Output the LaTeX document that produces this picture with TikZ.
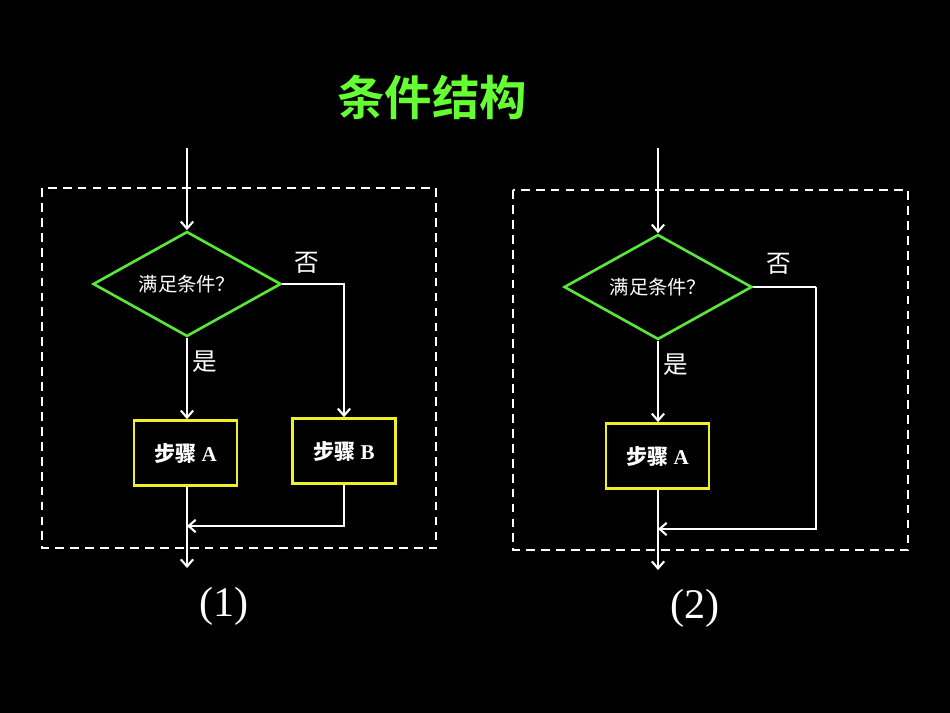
\documentclass[tikz,border=0pt]{standalone}
\usepackage{fontspec}
\setmainfont{Liberation Serif}
\newfontfamily\cjk{Noto Sans CJK SC}
\newfontfamily\cjkb{Noto Sans CJK SC Bold}
\usetikzlibrary{arrows.meta,shapes.geometric}
\definecolor{tgreen}{RGB}{102,255,51}
\definecolor{dgreen}{RGB}{90,230,60}
\definecolor{byellow}{RGB}{240,240,40}
\begin{document}
\begin{tikzpicture}[x=0.02cm,y=-0.02cm,
  ln/.style={white,line width=1.2pt},
  arr/.style={ln,-{Straight Barb[length=4pt,width=7pt]}},
  frame/.style={white,line width=1.3pt,dash pattern=on 5pt off 3.5pt},
  cond/.style={diamond,draw=dgreen,line width=1.5pt,fill=black,aspect=1.8,inner sep=0pt,minimum width=3.76cm,minimum height=2.1cm,text=white,font=\cjk\fontsize{11}{13}\selectfont},
  stepbox/.style={draw=byellow,line width=1.5pt,fill=black,minimum width=2.06cm,minimum height=1.3cm,text=white,font=\fontsize{12}{14}\selectfont\bfseries},
  lab/.style={text=white,font=\cjk\fontsize{14}{16}\selectfont},
  num/.style={text=white,font=\fontsize{24}{28}\selectfont}]
\fill[black] (0,0) rectangle (950,713);
\node[text=tgreen,font=\cjkb\fontsize{27}{30}\selectfont] (title) at (432,97) {条件结构};
% left
\draw[frame] (42,188) rectangle (436,548);
\coordinate (i1) at (187,148);
\node[cond] (d1) at (187,284) {满足条件？};
\node[stepbox] (a1) at (185.5,453) {{\cjk 步骤} A};
\node[stepbox] (b1) at (344,451) {{\cjk 步骤} B};
\coordinate (o1) at (187,568);
\coordinate (m1) at (187,526);
\draw[arr] (i1) -- (d1.north);
\draw[arr] (d1.south) -- (a1.north -| d1.south);
\draw[arr] (d1.east) -| (b1.north);
\draw[arr] (b1.south) |- (m1);
\draw[arr] (a1.south -| d1.south) -- (o1);
\node[lab] (y1) at (205,362) {是};
\node[lab] (n1) at (307,263) {否};
\node[num] (c1) at (224,606) {(1)};
% right
\draw[frame] (513,190) rectangle (908,550);
\coordinate (i2) at (658,148);
\node[cond] (d2) at (658,287) {满足条件？};
\node[stepbox] (a2) at (657.5,456) {{\cjk 步骤} A};
\coordinate (r2) at (816,287);
\coordinate (m2) at (658,529);
\coordinate (o2) at (658,570);
\draw[arr] (i2) -- (d2.north);
\draw[arr] (d2.south) -- (a2.north -| d2.south);
\draw[ln] (d2.east) -- (r2);
\draw[arr] (r2) |- (m2);
\draw[arr] (a2.south -| d2.south) -- (o2);
\node[lab] (y2) at (676,365) {是};
\node[lab] (n2) at (779,264) {否};
\node[num] (c2) at (695,608) {(2)};
\end{tikzpicture}
\end{document}
